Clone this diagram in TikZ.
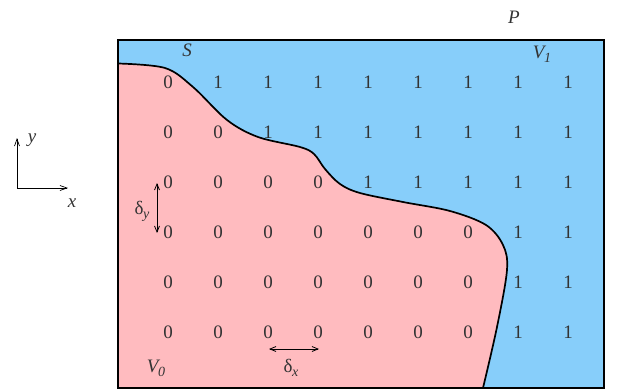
\documentclass[tikz,border=0pt]{standalone}
\usepackage{fontspec}
\setmainfont{Liberation Serif}
\usetikzlibrary{arrows.meta}
\definecolor{skyb}{HTML}{87CEFA}
\definecolor{pinkr}{HTML}{FFBBBF}
\definecolor{txt}{HTML}{333333}
\begin{document}
\begin{tikzpicture}[x=1pt,y=-1pt,
  num/.style={font=\fontsize{19}{19}\selectfont, text=txt, inner sep=0pt},
  lbl/.style={font=\fontsize{19}{19}\selectfont\itshape, text=txt, inner sep=0pt},
  dbl/.style={{Straight Barb[length=6pt,width=5pt]}-{Straight Barb[length=6pt,width=5pt]}, line width=0.8pt},
  ax/.style={-{Straight Barb[length=7pt,width=5pt]}, line width=0.7pt}]
\useasboundingbox (0,0) rectangle (619,391);
\def\curvepts{(118,63.5) (165,68) (193,87) (227,120) (258,137) (300,147) (314,154) (325,169) (340,184) (360,193) (403,202) (450,211) (486,225) (503,245) (507,270) (497,327) (483,388)}
% background
\fill[skyb] (118,40) rectangle (604,388);
\fill[pinkr] plot[smooth, tension=0.55] coordinates {\curvepts} -- (118,388) -- cycle;
\draw[line width=1.7pt] plot[smooth, tension=0.55] coordinates {\curvepts};
\draw[line width=1.3pt] (118,40) rectangle (604,388);
% grid
\foreach \r/\vals in {1/{0,1,1,1,1,1,1,1,1},2/{0,0,1,1,1,1,1,1,1},3/{0,0,0,0,1,1,1,1,1},4/{0,0,0,0,0,0,0,1,1},5/{0,0,0,0,0,0,0,1,1},6/{0,0,0,0,0,0,0,1,1}}{
  \foreach \v [count=\c] in \vals {
    \node[num] (n\r\c) at ({118+50*\c},{32+50*\r}) {\v};
  }
}
% labels
\node[lbl] (S) at (187,50) {S};
\node[lbl] (P) at (514,17) {P};
\node[lbl] (V1) at (542,54) {V\kern-0.5pt\raisebox{-4pt}{\fontsize{14}{14}\selectfont 1}};
\node[lbl] (V0) at (156,368) {V\kern-0.5pt\raisebox{-4pt}{\fontsize{14}{14}\selectfont 0}};
% axes
\coordinate (O) at (17,188);
\coordinate (Y) at (17,138);
\coordinate (X) at (68,188);
\draw[ax] (O) -- (Y);
\draw[ax] (O) -- (X);
\node[lbl] (ly) at (32,140) {y};
\node[lbl] (lx) at (72,203) {x};
% deltas
\coordinate (dy1) at (157,183);
\coordinate (dy2) at (157,233);
\draw[dbl] (dy1) -- (dy2);
\node[num] (ldy) at (142,211) {δ\kern-0.5pt\raisebox{-4pt}{\itshape\fontsize{14}{14}\selectfont y}};
\coordinate (dx1) at (269,349);
\coordinate (dx2) at (319,349);
\draw[dbl] (dx1) -- (dx2);
\node[num] (ldx) at (291,368) {δ\kern-0.5pt\raisebox{-4pt}{\itshape\fontsize{14}{14}\selectfont x}};
\end{tikzpicture}
\end{document}
